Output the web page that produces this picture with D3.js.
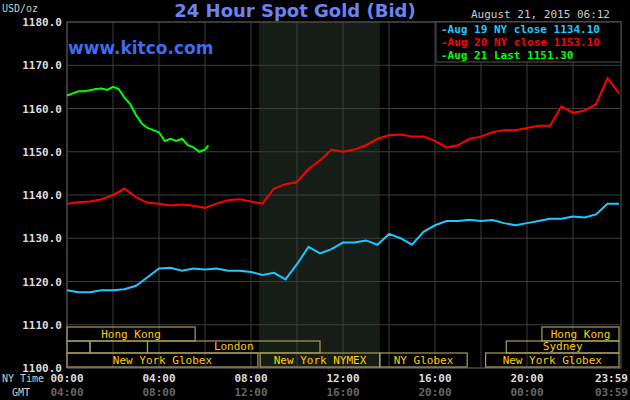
<!DOCTYPE html>
<html><head><meta charset="utf-8">
<script src="https://cdn.jsdelivr.net/npm/d3@7"></script>
<style>body{margin:0;background:#000}</style>
</head><body><svg id="c" width="630" height="400"></svg>
<script>
// values, half-hour steps (NY time)
var hours = d3.range(0, 24.01, 0.5);
var aug19 = [1118,1117.5,1117.5,1118,1118,1118.2,1119,1121,1123,1123.2,1122.5,1123,1122.8,1123,1122.5,1122.5,1122.2,1121.5,1122,1120.5,1124,1128,1126.5,1127.5,1129,1129,1129.5,1128.5,1131,1130,1128.5,1131.5,1133,1134,1134,1134.3,1134,1134.2,1133.5,1133,1133.5,1134,1134.5,1134.5,1135,1134.8,1135.5,1138,1138];
var aug20 = [1138,1138.3,1138.5,1139,1140,1141.5,1139.5,1138.2,1138,1137.6,1137.8,1137.5,1137,1138,1138.8,1139,1138.5,1138,1141.5,1142.5,1143,1146,1148,1150.5,1150,1150.5,1151.5,1153,1153.8,1154,1153.5,1153.5,1152.5,1151,1151.5,1153,1153.5,1154.5,1155,1155,1155.5,1156,1156,1160.5,1159,1159.5,1161,1167,1163.5];
var greenHours = [0,0.25,0.5,0.75,1,1.25,1.5,1.75,2,2.25,2.5,2.75,3,3.25,3.5,3.75,4,4.25,4.5,4.75,5,5.25,5.5,5.75,6,6.15];
var aug21 = [1163,1163.5,1164,1164,1164.2,1164.5,1164.6,1164.3,1165,1164.5,1162.5,1161,1158.5,1156.5,1155.5,1155,1154.5,1152.5,1153,1152.5,1153,1151.5,1151,1150,1150.5,1151.5];
var legendText = ["Aug 19 NY close 1134.10", "Aug 20 NY close 1153.10", "Aug 21 Last 1151.30"];
var legendColors = ["#1ec8ff", "#ff0000", "#00ff00"];
var nyTicks = ["00:00","04:00","08:00","12:00","16:00","20:00","23:59"];
var gmtTicks = ["04:00","08:00","12:00","16:00","20:00","00:00","03:59"];
var tickHours = [0,4,8,12,16,20,24];
// sessions: [row, start, end, label]
var sessions = [
  [0,0,5.57,"Hong Kong"],[0,20.65,24,"Hong Kong"],
  [1,0,1,""],[1,1,3.5,""],[1,3.5,11,"London"],[1,19.1,24,"Sydney"],
  [2,0,8.3,"New York Globex"],[2,8.4,13.6,"New York NYMEX"],[2,13.6,17.4,"NY Globex"],[2,18.2,24,"New York Globex"]
];

var svg = d3.select("#c");
var font = "'DejaVu Sans Mono', monospace";
var x = d3.scaleLinear().domain([0,24]).range([67,619]);
var y = d3.scaleLinear().domain([1100,1180]).range([368,22]);

svg.append("rect").attr("x",x(8.35)).attr("y",22).attr("width",x(13.6)-x(8.35)).attr("height",346).attr("fill","#161c16");

svg.selectAll(".vg").data(d3.range(0,24,2)).enter().append("line")
  .attr("x1",d=>x(d)).attr("x2",d=>x(d)).attr("y1",22).attr("y2",368).attr("stroke","#3c3c3c");
svg.selectAll(".hg").data(d3.range(1100,1181,10)).enter().append("line")
  .attr("x1",67).attr("x2",621).attr("y1",d=>y(d)).attr("y2",d=>y(d)).attr("stroke","#3c3c3c");
svg.append("rect").attr("x",67).attr("y",22).attr("width",554).attr("height",346).attr("fill","none").attr("stroke","#555");

svg.selectAll(".yl").data(d3.range(1100,1181,10)).enter().append("text")
  .attr("x",62).attr("y",d=>y(d)+4).attr("text-anchor","end").attr("fill","#ddd")
  .attr("font-family",font).attr("font-weight","bold").attr("font-size",11).text(d=>d.toFixed(1));

// sessions
var rowY = [327,341,353], rowH = [14,12,14];
var sg = svg.selectAll(".s").data(sessions).enter().append("g");
sg.append("rect").attr("x",d=>x(d[1])).attr("y",d=>rowY[d[0]]).attr("width",d=>x(d[2])-x(d[1]))
  .attr("height",d=>rowH[d[0]]).attr("fill","none").attr("stroke","#a89c5c").attr("stroke-width",1.2);
sg.append("text").attr("x",d=>(x(d[1])+x(d[2]))/2).attr("y",d=>rowY[d[0]]+rowH[d[0]]-3)
  .attr("text-anchor","middle").attr("fill","#ffcc00").attr("font-family",font).attr("font-size",11).text(d=>d[3]);

var line = d3.line().x(d=>x(d[0])).y(d=>y(d[1]));
svg.append("path").datum(hours.map((h,i)=>[h,aug19[i]])).attr("d",line).attr("fill","none").attr("stroke","#1ec8ff").attr("stroke-width",2);
svg.append("path").datum(hours.map((h,i)=>[h,aug20[i]])).attr("d",line).attr("fill","none").attr("stroke","#ff0000").attr("stroke-width",2);
svg.append("path").datum(greenHours.map((h,i)=>[h,aug21[i]])).attr("d",line).attr("fill","none").attr("stroke","#00ff00").attr("stroke-width",2);

// x labels
var anchor = d => d === 24 ? "end" : "middle";
var lx = d => d === 24 ? 628 : x(d);
svg.selectAll(".nx").data(tickHours).enter().append("text").attr("x",lx).attr("y",382)
  .attr("text-anchor",anchor).attr("fill","#ddd").attr("font-family",font).attr("font-weight","bold").attr("font-size",11)
  .text((d,i)=>nyTicks[i]);
svg.selectAll(".gx").data(tickHours).enter().append("text").attr("x",lx).attr("y",396)
  .attr("text-anchor",anchor).attr("fill","#666").attr("font-family",font).attr("font-weight","bold").attr("font-size",11)
  .text((d,i)=>gmtTicks[i]);
svg.append("text").attr("x",2).attr("y",382).attr("fill","#ccc").attr("font-family",font).attr("font-size",10).text("NY Time");
svg.append("text").attr("x",12).attr("y",396).attr("fill","#ccc").attr("font-family",font).attr("font-size",10).text("GMT");

// titles
svg.append("text").attr("x",2).attr("y",12).attr("fill","#ccc").attr("font-family",font).attr("font-size",10).text("USD/oz");
svg.append("text").attr("x",295).attr("y",17).attr("text-anchor","middle").attr("fill","#6a84f2")
  .attr("font-family","'DejaVu Sans', sans-serif").attr("font-weight","bold").attr("font-size",18).text("24 Hour Spot Gold (Bid)");
svg.append("text").attr("x",68).attr("y",54).attr("fill","#3e6cf0")
  .attr("font-family","'DejaVu Sans', sans-serif").attr("font-weight","bold").attr("font-size",17).text("www.kitco.com");
svg.append("text").attr("x",610).attr("y",18).attr("text-anchor","end").attr("fill","#ccc")
  .attr("font-family",font).attr("font-size",11).text("August 21, 2015 06:12");

svg.append("rect").attr("x",436).attr("y",22).attr("width",185).attr("height",40).attr("fill","#000").attr("stroke","#555");
svg.selectAll(".lg").data(legendText).enter().append("text").attr("x",441).attr("y",(d,i)=>33+i*13)
  .attr("fill",(d,i)=>legendColors[i]).attr("font-family",font).attr("font-weight","bold").attr("font-size",11)
  .text(d=>"-"+d);
</script></body></html>
